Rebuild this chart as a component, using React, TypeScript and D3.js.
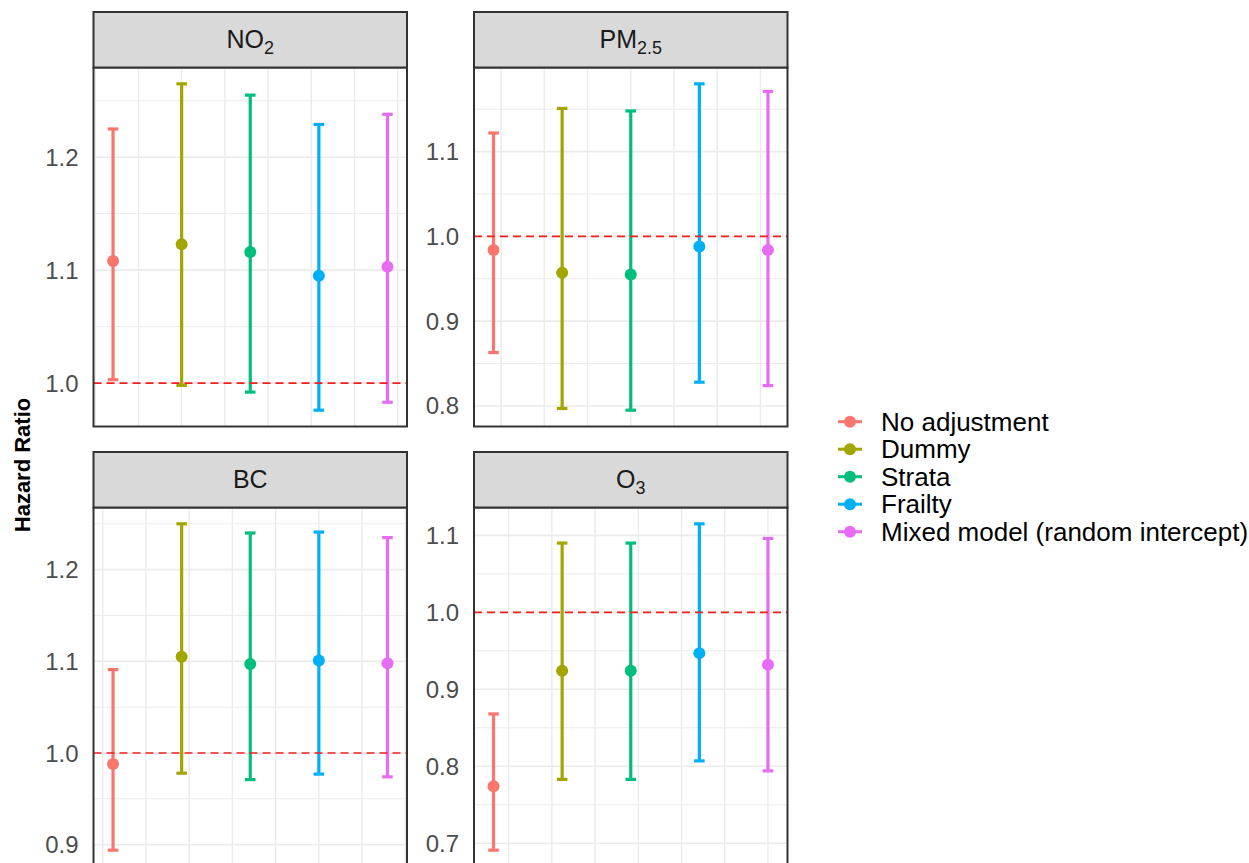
import { useEffect, useRef } from 'react';
import * as d3 from 'd3';

// Models (fill colour order = ggplot default hue palette)
const models = ['No adjustment', 'Dummy', 'Strata', 'Frailty', 'Mixed model (random intercept)'];
const modelColors = ['#F8766D', '#A3A500', '#00BF7D', '#00B0F6', '#E76BF3'];

// Hazard ratios
const no2Est = [1.108, 1.123, 1.116, 1.095, 1.103];
const no2Lo = [1.003, 0.998, 0.992, 0.976, 0.983];
const no2Hi = [1.225, 1.265, 1.255, 1.229, 1.238];

const pm25Est = [0.984, 0.957, 0.955, 0.988, 0.984];
const pm25Lo = [0.863, 0.797, 0.795, 0.828, 0.824];
const pm25Hi = [1.122, 1.151, 1.148, 1.180, 1.171];

const bcEst = [0.988, 1.105, 1.097, 1.101, 1.098];
const bcLo = [0.894, 0.978, 0.971, 0.977, 0.974];
const bcHi = [1.091, 1.250, 1.240, 1.241, 1.235];

const o3Est = [0.774, 0.924, 0.924, 0.947, 0.932];
const o3Lo = [0.691, 0.783, 0.783, 0.807, 0.794];
const o3Hi = [0.868, 1.090, 1.090, 1.115, 1.096];

// Tick labels per panel
const no2Ticks = ['1.0', '1.1', '1.2'];
const pm25Ticks = ['0.8', '0.9', '1.0', '1.1'];
const bcTicks = ['0.9', '1.0', '1.1', '1.2'];
const o3Ticks = ['0.7', '0.8', '0.9', '1.0', '1.1'];

const panels = [
  { name: 'NO', sub: '2', est: no2Est, lo: no2Lo, hi: no2Hi, ticks: no2Ticks, gridAnchor: 1 },
  { name: 'PM', sub: '2.5', est: pm25Est, lo: pm25Lo, hi: pm25Hi, ticks: pm25Ticks, gridAnchor: 2 },
  { name: 'BC', sub: '', est: bcEst, lo: bcLo, hi: bcHi, ticks: bcTicks, gridAnchor: 3 },
  { name: 'O', sub: '3', est: o3Est, lo: o3Lo, hi: o3Hi, ticks: o3Ticks, gridAnchor: 4 },
];

const FONT = '"Liberation Sans", Arial, Helvetica, sans-serif';

export default function App() {
  const svgRef = useRef<SVGSVGElement>(null);

  useEffect(() => {
    if (!svgRef.current) return;
    d3.select(svgRef.current).selectAll('*').remove();

    const width = 1249;
    const height = 863;
    const colX = [93.5, 474];
    const rowTop = [12, 452];
    const panelW = 313.5;
    const stripH = 55.5;
    const panelH = 359;
    const capHalf = 0.077;
    const gridStep = 0.63;

    const svg = d3
      .select(svgRef.current)
      .attr('width', width)
      .attr('height', height)
      .style('font-family', FONT);

    svg.append('rect').attr('width', width).attr('height', height).attr('fill', 'white');

    panels.forEach((p, i) => {
      const col = i % 2;
      const row = Math.floor(i / 2);
      const x0 = colX[col];
      const sTop = rowTop[row];
      const y0 = sTop + stripH;
      const y1 = y0 + panelH;

      // y range = error bar extent + 5% either side
      const minV = d3.min(p.lo) as number;
      const maxV = d3.max(p.hi) as number;
      const span = maxV - minV;
      const y = d3
        .scaleLinear()
        .domain([minV - 0.05 * span, maxV + 0.05 * span])
        .range([y1, y0]);

      const xSpan = models.length - 1 + 2 * capHalf;
      const x = d3
        .scaleLinear()
        .domain([-capHalf - 0.05 * xSpan, models.length - 1 + capHalf + 0.05 * xSpan])
        .range([x0, x0 + panelW]);

      const g = svg.append('g');

      // grid lines
      const majors = p.ticks.map(Number);
      const step = majors[1] - majors[0];
      const minors = d3
        .range(-1, majors.length + 1)
        .map(k => majors[0] + (k + 0.5) * step)
        .filter(v => v > y.domain()[0] && v < y.domain()[1]);

      g.selectAll('.minor')
        .data(minors)
        .enter()
        .append('line')
        .attr('x1', x0)
        .attr('x2', x0 + panelW)
        .attr('y1', d => y(d))
        .attr('y2', d => y(d))
        .attr('stroke', '#ebebeb')
        .attr('stroke-width', 1);

      g.selectAll('.major')
        .data(majors)
        .enter()
        .append('line')
        .attr('x1', x0)
        .attr('x2', x0 + panelW)
        .attr('y1', d => y(d))
        .attr('y2', d => y(d))
        .attr('stroke', '#ebebeb')
        .attr('stroke-width', 1.6);

      const vGrid = d3
        .range(-10, 10)
        .map(k => p.gridAnchor + k * gridStep)
        .filter(v => v > x.domain()[0] + 0.02 && v < x.domain()[1] - 0.02);

      g.selectAll('.vgrid')
        .data(vGrid)
        .enter()
        .append('line')
        .attr('x1', d => x(d))
        .attr('x2', d => x(d))
        .attr('y1', y0)
        .attr('y2', y1)
        .attr('stroke', '#ebebeb')
        .attr('stroke-width', 1.4);

      // error bars
      models.forEach((_, j) => {
        const c = modelColors[j];
        const cx = x(j);
        g.append('line')
          .attr('x1', cx)
          .attr('x2', cx)
          .attr('y1', y(p.lo[j]))
          .attr('y2', y(p.hi[j]))
          .attr('stroke', c)
          .attr('stroke-width', 3.2);
        [p.lo[j], p.hi[j]].forEach(v => {
          g.append('line')
            .attr('x1', x(j - capHalf))
            .attr('x2', x(j + capHalf))
            .attr('y1', y(v))
            .attr('y2', y(v))
            .attr('stroke', c)
            .attr('stroke-width', 3.2);
        });
      });

      // reference line at HR = 1
      g.append('line')
        .attr('x1', x0)
        .attr('x2', x0 + panelW)
        .attr('y1', y(1))
        .attr('y2', y(1))
        .attr('stroke', '#f02020')
        .attr('stroke-width', 1.6)
        .attr('stroke-dasharray', '8,5');

      // points
      models.forEach((_, j) => {
        g.append('circle')
          .attr('cx', x(j))
          .attr('cy', y(p.est[j]))
          .attr('r', 6)
          .attr('fill', modelColors[j]);
      });

      // panel border
      g.append('rect')
        .attr('x', x0)
        .attr('y', y0)
        .attr('width', panelW)
        .attr('height', panelH)
        .attr('fill', 'none')
        .attr('stroke', '#333333')
        .attr('stroke-width', 2);

      // strip
      g.append('rect')
        .attr('x', x0)
        .attr('y', sTop)
        .attr('width', panelW)
        .attr('height', stripH)
        .attr('fill', '#d9d9d9')
        .attr('stroke', '#333333')
        .attr('stroke-width', 2);

      const label = g
        .append('text')
        .attr('x', x0 + panelW / 2)
        .attr('y', sTop + stripH / 2 + 8.5)
        .attr('text-anchor', 'middle')
        .attr('fill', '#1a1a1a')
        .attr('font-size', '25px');
      label.append('tspan').text(p.name);
      if (p.sub) {
        label.append('tspan').attr('font-size', '18px').attr('dy', 6).text(p.sub);
      }

      // y tick labels
      g.selectAll('.tick')
        .data(p.ticks)
        .enter()
        .append('text')
        .attr('x', x0 - 15)
        .attr('y', d => y(Number(d)) + 8.5)
        .attr('text-anchor', 'end')
        .attr('fill', '#4d4d4d')
        .attr('font-size', '24px')
        .text(d => d);
    });

    // y axis title
    svg
      .append('text')
      .attr('transform', 'translate(30, 465) rotate(-90)')
      .attr('text-anchor', 'middle')
      .attr('font-size', '22px')
      .attr('font-weight', 'bold')
      .attr('fill', 'black')
      .text('Hazard Ratio');

    // legend
    const legendY = d3.scaleLinear().domain([0, 1]).range([421.7, 449.2]);
    models.forEach((m, j) => {
      const ly = legendY(j);
      svg
        .append('line')
        .attr('x1', 838)
        .attr('x2', 862)
        .attr('y1', ly)
        .attr('y2', ly)
        .attr('stroke', modelColors[j])
        .attr('stroke-width', 3);
      svg.append('circle').attr('cx', 850).attr('cy', ly).attr('r', 6).attr('fill', modelColors[j]);
      svg
        .append('text')
        .attr('x', 881)
        .attr('y', ly + 9)
        .attr('font-size', '26px')
        .attr('fill', 'black')
        .text(m);
    });
  }, []);

  return (
    <div style={{ position: 'absolute', left: 0, top: 0 }}>
      <svg ref={svgRef}></svg>
    </div>
  );
}
